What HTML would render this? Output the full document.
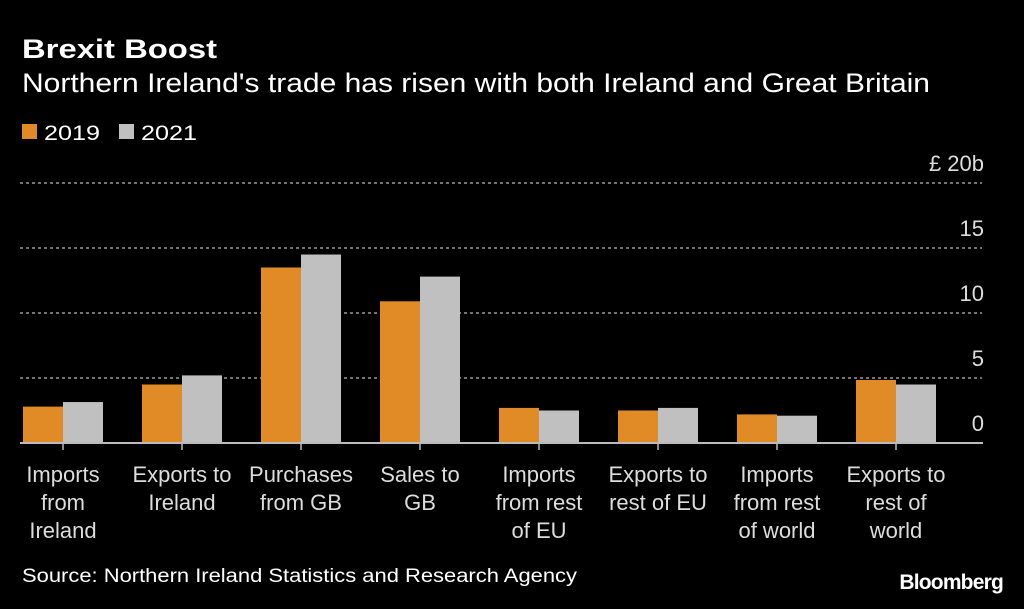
<!DOCTYPE html>
<html><head><meta charset="utf-8"><style>
body{margin:0;background:#000;width:1024px;height:604px;overflow:hidden;font-family:"Liberation Sans",sans-serif;color:#fff}
</style></head><body>
<svg width="1024" height="604" xmlns="http://www.w3.org/2000/svg" id="c">
<rect width="1024" height="604" fill="#000"/>
<text x="22" y="58" font-size="27" font-weight="bold" fill="#fff" textLength="195" lengthAdjust="spacingAndGlyphs">Brexit Boost</text>
<text x="22" y="92" font-size="27" fill="#fff" textLength="908" lengthAdjust="spacingAndGlyphs">Northern Ireland's trade has risen with both Ireland and Great Britain</text>
<rect x="22" y="124" width="15" height="15" fill="#e08b26"/>
<text x="44" y="140" font-size="21" fill="#fff" textLength="56" lengthAdjust="spacingAndGlyphs">2019</text>
<rect x="119" y="124" width="15" height="15" fill="#c0c0c0"/>
<text x="141" y="140" font-size="21" fill="#fff" textLength="56" lengthAdjust="spacingAndGlyphs">2021</text>
<g id="grid"></g><g id="bars"></g><g id="labels"></g>
<text x="22" y="582" font-size="19" fill="#fff" textLength="555" lengthAdjust="spacingAndGlyphs">Source: Northern Ireland Statistics and Research Agency</text>
<text x="1003" y="589" font-size="21" font-weight="bold" fill="#fff" text-anchor="end" letter-spacing="-0.8">Bloomberg</text>
</svg>
<script>
const categories=[["Imports","from","Ireland"],["Exports to","Ireland"],["Purchases","from GB"],["Sales to","GB"],["Imports","from rest","of EU"],["Exports to","rest of EU"],["Imports","from rest","of world"],["Exports to","rest of","world"]];
const values2019=[2.8,4.5,13.5,10.9,2.7,2.5,2.2,4.85];
const values2021=[3.15,5.2,14.5,12.8,2.5,2.7,2.1,4.5];
const ticks=[0,5,10,15,20];
const tickLabels=["0","5","10","15","£ 20b"];
const NS="http://www.w3.org/2000/svg";
const y=v=>443-v*13;
const xc=i=>63+i*119;
function mk(t,a,p){const e=document.createElementNS(NS,t);for(const k in a)e.setAttribute(k,a[k]);p.appendChild(e);return e;}
const G=document.getElementById('grid'),B=document.getElementById('bars'),L=document.getElementById('labels');
ticks.forEach((t,i)=>{
 if(t>0){const l=mk('line',{x1:20,x2:982,y1:y(t),y2:y(t),stroke:'#999','stroke-width':1.5,'stroke-dasharray':'3,3'},G);
 
 }
 const tx=mk('text',{x:984,y:y(t)-12,'font-size':22,fill:'#ddd','text-anchor':'end'},G);tx.textContent=tickLabels[i];
 
 
});
categories.forEach((c,i)=>{
 const a=mk('rect',{x:xc(i)-40,y:y(values2019[i]),width:40,height:values2019[i]*13,fill:'#e08b26'},B);
 
 
 const b=mk('rect',{x:xc(i),y:y(values2021[i]),width:40,height:values2021[i]*13,fill:'#c0c0c0'},B);
 
 
 mk('line',{x1:xc(i),x2:xc(i),y1:443,y2:450,stroke:'#bbb','stroke-width':1.5},B);
 c.forEach((s,j)=>{const t=mk('text',{x:xc(i),y:482+j*28,'font-size':22,fill:'#ddd','text-anchor':'middle'},L);t.textContent=s;
 
 });
});
const base=mk('line',{x1:20,x2:983,y1:443,y2:443,stroke:'#bbb','stroke-width':2},B);


</script>
</body></html>
